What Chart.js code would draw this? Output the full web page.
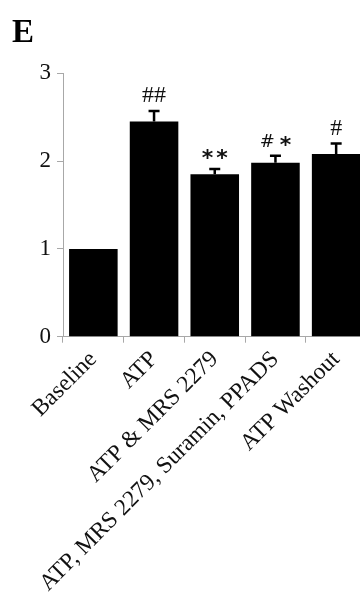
<!DOCTYPE html>
<html>
<head>
<meta charset="utf-8">
<script src="https://cdn.jsdelivr.net/npm/chart.js@4.4.1/dist/chart.umd.min.js"></script>
<style>
  html, body { margin: 0; padding: 0; background: #fff; overflow: hidden; }
  #wrap { position: relative; width: 400px; height: 601px; }
  #panel {
    position: absolute; left: 12px; top: 13px;
    font: bold 33px "Liberation Serif", "Times New Roman", serif; color: #000;
  }
</style>
</head>
<body>
<div id="wrap">
  <canvas id="chart" width="400" height="601"></canvas>
  <div id="panel">E</div>
</div>
<script>
const categories = ['Baseline', 'ATP', 'ATP & MRS 2279', 'ATP, MRS 2279, Suramin, PPADS', 'ATP Washout'];
const means = [1.0, 2.45, 1.85, 1.98, 2.08];
const sem = [0, 0.12, 0.06, 0.08, 0.12];
const marks = ['', '##', '**', '#*', '#'];
const yTicks = [0, 1, 2, 3];

const SERIF = '"Liberation Serif", "Times New Roman", serif';
const AXIS_GREY = '#a8a8a8';

// upward-only error bars with a flat cap
const errorBars = {
  id: 'errorBars',
  afterDatasetsDraw(chart) {
    const { ctx, scales: { y } } = chart;
    const meta = chart.getDatasetMeta(0);
    ctx.save();
    ctx.strokeStyle = '#000';
    ctx.lineWidth = 2.5;
    meta.data.forEach((bar, i) => {
      if (!sem[i]) return;
      const y0 = y.getPixelForValue(means[i]);
      const y1 = y.getPixelForValue(means[i] + sem[i]);
      ctx.beginPath();
      ctx.moveTo(bar.x, y0);
      ctx.lineTo(bar.x, y1);
      ctx.moveTo(bar.x - 5.5, y1);
      ctx.lineTo(bar.x + 5.5, y1);
      ctx.stroke();
    });
    ctx.restore();
  }
};

// significance marks: '#' in serif, '*' as a heavier sans star
const sigMarks = {
  id: 'sigMarks',
  afterDatasetsDraw(chart) {
    const { ctx, scales: { y } } = chart;
    const meta = chart.getDatasetMeta(0);
    ctx.save();
    ctx.fillStyle = '#111';
    ctx.textBaseline = 'alphabetic';
    meta.data.forEach((bar, i) => {
      const s = marks[i];
      if (!s) return;
      const mixed = s.includes('#') && s.includes('*');
      const parts = s.split('').map(ch => ({
        ch,
        font: ch === '*' ? 'bold 22px "DejaVu Sans", sans-serif'
                         : (mixed ? '18px "DejaVu Sans", sans-serif' : '24px ' + SERIF)
      }));
      const gap = mixed ? 5 : (s === '**' ? 3 : 0);
      let total = 0;
      parts.forEach(p => { ctx.font = p.font; p.w = ctx.measureText(p.ch).width; total += p.w; });
      total += gap * (parts.length - 1);
      const base = y.getPixelForValue(means[i] + sem[i]) - 9;
      let x = bar.x - total / 2;
      parts.forEach(p => {
        ctx.font = p.font;
        const yy = p.ch === '*' ? base + 5 : base;
        ctx.fillText(p.ch, x, yy);
        x += p.w + gap;
      });
    });
    ctx.restore();
  }
};

const chart = new Chart(document.getElementById('chart'), {
  type: 'bar',
  data: {
    labels: categories,
    datasets: [{
      data: means,
      backgroundColor: '#000',
      borderWidth: 0,
      categoryPercentage: 1.0,
      barPercentage: 0.8
    }]
  },
  options: {
    responsive: false,
    animation: false,
    layout: { padding: { top: 73.3, right: 33.5, bottom: 0, left: 0 } },
    plugins: {
      legend: { display: false },
      tooltip: { enabled: false }
    },
    scales: {
      x: {
        afterFit: s => { s.height = 601 - 336.7; },
        grid: {
          offset: true,
          drawOnChartArea: false,
          drawTicks: true,
          tickLength: 6,
          color: AXIS_GREY
        },
        border: { display: true, color: AXIS_GREY, width: 1 },
        ticks: {
          maxRotation: 45,
          minRotation: 45,
          autoSkip: false,
          padding: 3,
          color: '#111',
          font: { family: SERIF, size: 23.5 }
        }
      },
      y: {
        min: 0,
        max: 3,
        afterFit: s => { s.width = 63; },
        afterBuildTicks: s => { s.ticks = yTicks.map(v => ({ value: v })); },
        grid: {
          drawOnChartArea: false,
          drawTicks: true,
          tickLength: 6,
          color: AXIS_GREY
        },
        border: { display: true, color: AXIS_GREY, width: 1 },
        ticks: {
          padding: 6,
          color: '#111',
          font: { family: SERIF, size: 23 }
        }
      }
    }
  },
  plugins: [errorBars, sigMarks]
});
</script>
</body>
</html>
